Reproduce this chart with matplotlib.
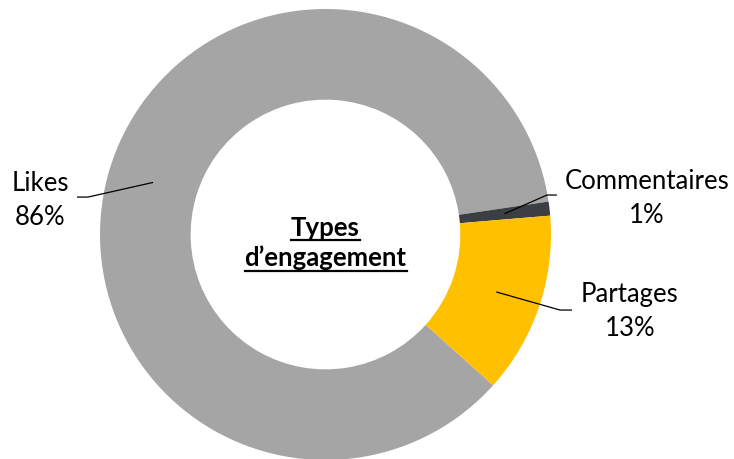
import numpy as np
import matplotlib.pyplot as plt

# engagement shares (%)
labels = ['Likes', 'Commentaires', 'Partages']
values = [86, 1, 13]
colors = ['#A5A5A5', '#3B3E42', '#FFC000']
center_lines = ['Types', 'd’engagement']

# label text positions (pie radius units) and leader-line elbows
label_pos = [(-1.266, 0.153), (1.426, 0.162), (1.350, -0.339)]
elbows = [((-1.102, 0.166), (-1.053, 0.166)),
          ((1.026, 0.175), (0.982, 0.175)),
          ((1.093, -0.335), (1.040, -0.335))]

plt.rcParams['font.family'] = ['Lato', 'DejaVu Sans']

fig = plt.figure(figsize=(7.34, 4.6), dpi=100)
ax = fig.add_axes([0, 0, 1, 1])

start = -42
wedges, _ = ax.pie(values, colors=colors, startangle=start, counterclock=False,
                   radius=1.0, wedgeprops=dict(width=0.402, linewidth=0))

ax.set_xlim(-325.5 / 225.5, (734 - 325.5) / 225.5)
ax.set_ylim(-224.5 / 225.5, 235.5 / 225.5)
ax.set_aspect('auto')
ax.axis('off')

mid_r = 1 - 0.402 / 2
for w, lab, v, pos, (e0, e1) in zip(wedges, labels, values, label_pos, elbows):
    ang = np.deg2rad((w.theta1 + w.theta2) / 2)
    ax_, ay_ = mid_r * np.cos(ang), mid_r * np.sin(ang)
    ax.plot([e0[0], e1[0], ax_], [e0[1], e1[1], ay_], color='black', lw=0.9,
            solid_capstyle='butt')
    ax.text(pos[0], pos[1], f'{lab}\n{v}%', ha='center', va='center',
            fontsize=18.5, linespacing=1.45, color='black')

# centre title, bold + underlined
fig.canvas.draw()
renderer = fig.canvas.get_renderer()
ys = [0.0, -0.136]
for txt, y in zip(center_lines, ys):
    t = ax.text(0, y, txt, ha='center', va='baseline', fontsize=18.5,
                fontweight='bold', color='black')
    bb = t.get_window_extent(renderer=renderer)
    inv = ax.transData.inverted()
    (x0, _), (x1, _) = inv.transform([(bb.x0, bb.y0), (bb.x1, bb.y0)])
    ax.plot([x0, x1], [y - 0.025, y - 0.025], color='black', lw=1.6)

fig.savefig('out.png', dpi=100)
